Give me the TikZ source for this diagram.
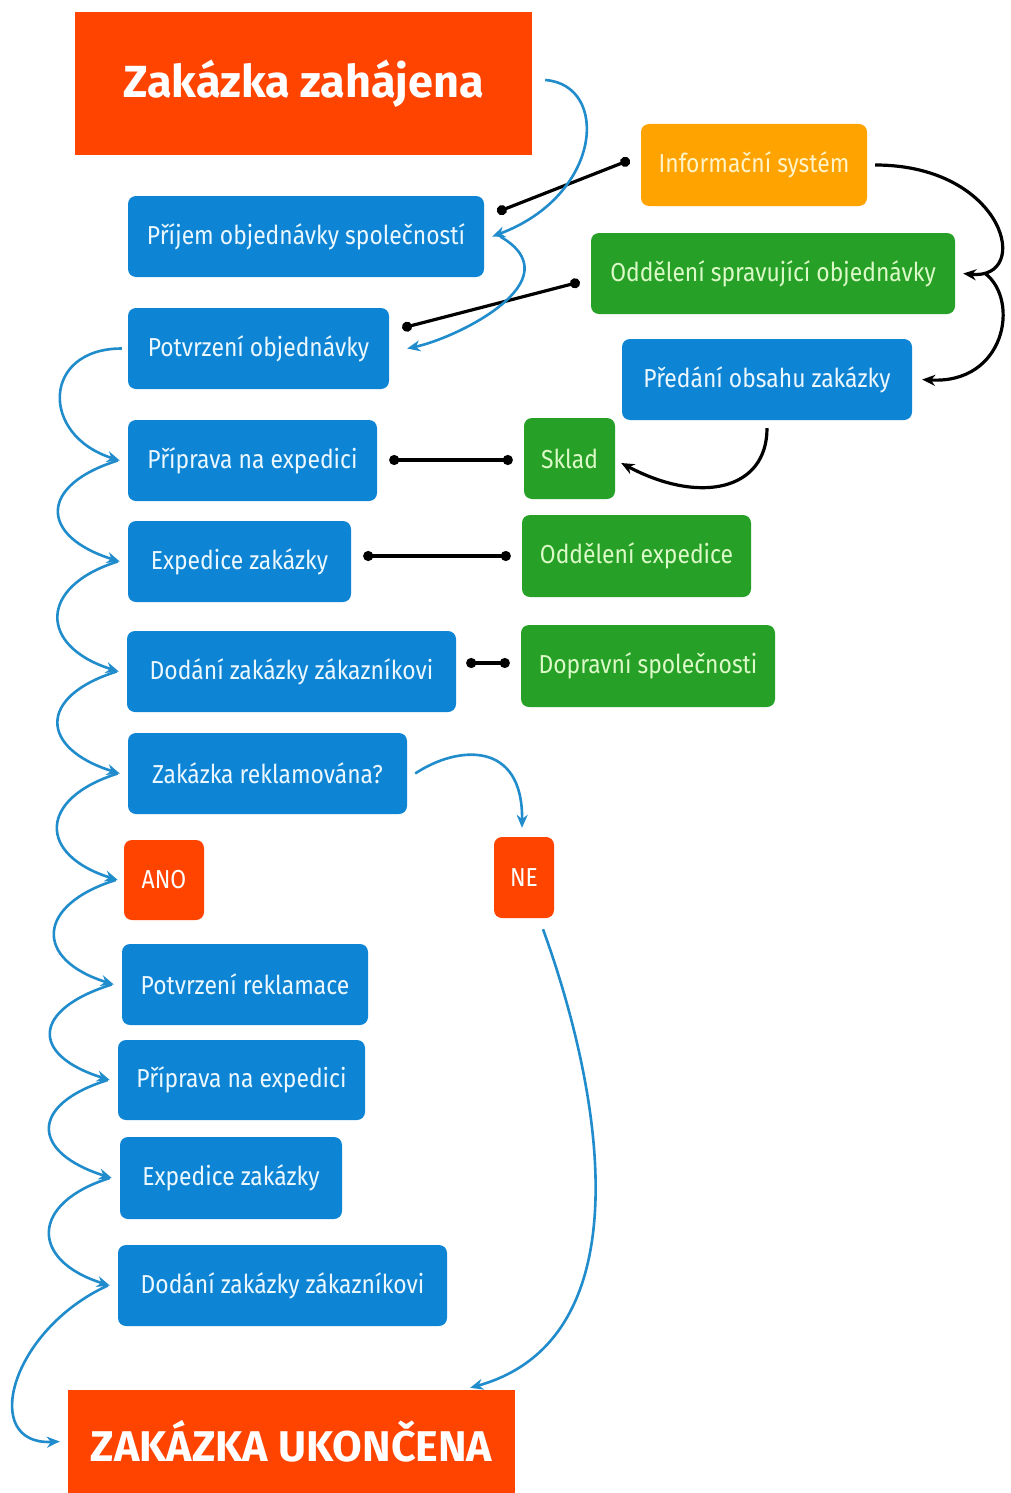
\documentclass[tikz,border=0pt]{standalone}
\usepackage{fontspec}
\setmainfont{Fira Sans}[FakeStretch=0.88]
\newfontfamily\titlefont{Fira Sans}
\usetikzlibrary{arrows.meta}

\definecolor{startred}{RGB}{255,68,0}
\definecolor{procblue}{RGB}{14,132,212}
\definecolor{deptgreen}{RGB}{38,160,38}
\definecolor{infoorange}{RGB}{255,163,0}
\definecolor{flowblue}{RGB}{32,140,204}
\definecolor{paleblue}{RGB}{236,248,255}
\definecolor{palegreen}{RGB}{220,250,200}
\definecolor{paleyellow}{RGB}{255,243,200}

\tikzset{
  box/.style={rounded corners=8pt,inner sep=0pt,minimum height=81pt,
    font=\fontsize{26}{30}\selectfont},
  procbox/.style={box,fill=procblue,text=paleblue},
  deptbox/.style={box,fill=deptgreen,text=palegreen},
  infobox/.style={box,fill=infoorange,text=paleyellow},
  answerbox/.style={box,fill=startred,text=white},
  endbox/.style={inner sep=0pt,fill=startred,text=white},
  flow/.style={draw=flowblue,line width=2.6pt,-{Stealth[length=13pt,width=11pt]}},
  link/.style={line width=3.2pt,{Circle[length=10pt]}-{Circle[length=10pt]}},
  pass/.style={line width=3.2pt,-{Stealth[length=13pt,width=11pt]}}
}

\begin{document}
\begin{tikzpicture}[x=1pt,y=1pt]
	\useasboundingbox[fill=white] (0,0) rectangle (1010,-1493);

	% main flow
	\node[endbox,minimum width=457pt,minimum height=143pt,font=\titlefont\bfseries\fontsize{45}{50}\selectfont] (start) at (303.5,-83.5) {Zakázka zahájena};
	\node[procbox,minimum width=356pt] (prijem) at (306,-236.5) {Příjem objednávky společností};
	\node[procbox,minimum width=261pt] (potvrzeni) at (258.5,-348.5) {Potvrzení objednávky};
	\node[procbox,minimum width=249pt] (priprava) at (252.5,-460.5) {Příprava na expedici};
	\node[procbox,minimum width=223pt] (expedice) at (239.5,-561.5) {Expedice zakázky};
	\node[procbox,minimum width=329pt] (dodani) at (291.5,-671.5) {Dodání zakázky zákazníkovi};
	\node[procbox,minimum width=279pt] (reklamace) at (267.5,-773.5) {Zakázka reklamována?};
	\node[answerbox,minimum width=80pt,minimum height=80pt] (ano) at (164,-880) {ANO};
	\node[answerbox,minimum width=60pt] (ne) at (524,-877.5) {NE};
	\node[procbox,minimum width=246pt] (potvrzrekl) at (245,-984.5) {Potvrzení reklamace};
	\node[procbox,minimum width=247pt,minimum height=80pt] (priprava2) at (241.5,-1080) {Příprava na expedici};
	\node[procbox,minimum width=222pt,minimum height=82pt] (expedice2) at (231,-1178) {Expedice zakázky};
	\node[procbox,minimum width=329pt] (dodani2) at (282.5,-1285.5) {Dodání zakázky zákazníkovi};
	\node[endbox,minimum width=447pt,minimum height=103pt,font=\titlefont\bfseries\fontsize{43}{48}\selectfont] (konec) at (291.5,-1441.5) {ZAKÁZKA UKONČENA};

	% departments
	\node[infobox,minimum width=226pt,minimum height=82pt] (info) at (754,-165) {Informační systém};
	\node[deptbox,minimum width=364pt] (oddspr) at (773,-273.5) {Oddělení spravující objednávky};
	\node[procbox,minimum width=290pt] (predani) at (767,-379.5) {Předání obsahu zakázky};
	\node[deptbox,minimum width=91pt] (sklad) at (569.5,-458.5) {Sklad};
	\node[deptbox,minimum width=229pt,minimum height=82pt] (oddexp) at (636.5,-556) {Oddělení expedice};
	\node[deptbox,minimum width=254pt,minimum height=82pt] (doprava) at (648,-666) {Dopravní společnosti};

	\draw[link] ([shift={(-11,5)}]info.west) -- ([shift={(13,24.5)}]prijem.east);
	\draw[link] ([shift={(-11,-8.5)}]oddspr.west) -- ([shift={(13,20.5)}]potvrzeni.east);
	\draw[link] ([shift={(-11,-1.5)}]sklad.west) -- ([shift={(12,0.5)}]priprava.east);
	\draw[link] ([shift={(-11,0)}]oddexp.west) -- ([shift={(12,5.5)}]expedice.east);
	\draw[link] ([shift={(-11,3)}]doprava.west) -- ([shift={(10,8.5)}]dodani.east);

	\draw[pass] ([xshift=8]info.east) .. controls +(130,0) and +(70,-7) .. ([xshift=8]oddspr.east);
	\draw[pass] ([xshift=30]oddspr.east) .. controls +(35,-27) and +(83,-5) .. ([xshift=10]predani.east);
	\draw[pass] ([yshift=-8]predani.south) .. controls +(0,-62) and +(79,-42) .. ([shift={(6,-4.5)}]sklad.east);

	\draw[flow] ([shift={(13,3.5)}]start.east) .. controls +(65,-5) and +(110,41) .. ([xshift=8]prijem.east);
	\draw[flow] ([xshift=16]prijem.east) .. controls +(75,-43.5) and +(50,10.5) .. ([xshift=18]potvrzeni.east);
	\draw[flow] ([xshift=8]reklamace.east) .. controls +(42,28) and +(1,88) .. ([shift={(-2,9)}]ne.north);
	\draw[flow] ([shift={(19,-11)}]ne.south) .. controls +(62,-171) and +(172,48) .. ([shift={(-45,2)}]konec.north east);

	% left chain
	\draw[flow] ([xshift=-6]potvrzeni.west) .. controls +(-80,0) and +(-80,25) .. ([xshift=-8]priprava.west);
	\draw[flow] ([xshift=-10]priprava.west) .. controls +(-80,-25) and +(-80,25) .. ([xshift=-8]expedice.west);
	\draw[flow] ([xshift=-10]expedice.west) .. controls +(-80,-25) and +(-80,25) .. ([xshift=-8]dodani.west);
	\draw[flow] ([xshift=-10]dodani.west) .. controls +(-80,-25) and +(-80,25) .. ([xshift=-8]reklamace.west);
	\draw[flow] ([xshift=-10]reklamace.west) .. controls +(-80,-25) and +(-80,25) .. ([xshift=-6]ano.west);
	\draw[flow] ([xshift=-8]ano.west) .. controls +(-80,-25) and +(-80,25) .. ([xshift=-8]potvrzrekl.west);
	\draw[flow] ([xshift=-10]potvrzrekl.west) .. controls +(-80,-25) and +(-80,25) .. ([xshift=-8]priprava2.west);
	\draw[flow] ([xshift=-10]priprava2.west) .. controls +(-80,-25) and +(-80,25) .. ([xshift=-8]expedice2.west);
	\draw[flow] ([xshift=-10]expedice2.west) .. controls +(-80,-25) and +(-80,25) .. ([xshift=-8]dodani2.west);
	\draw[flow] ([xshift=-10]dodani2.west) .. controls +(-98,-45) and +(-80,-4) .. ([xshift=-8]konec.west);
\end{tikzpicture}
\end{document}
